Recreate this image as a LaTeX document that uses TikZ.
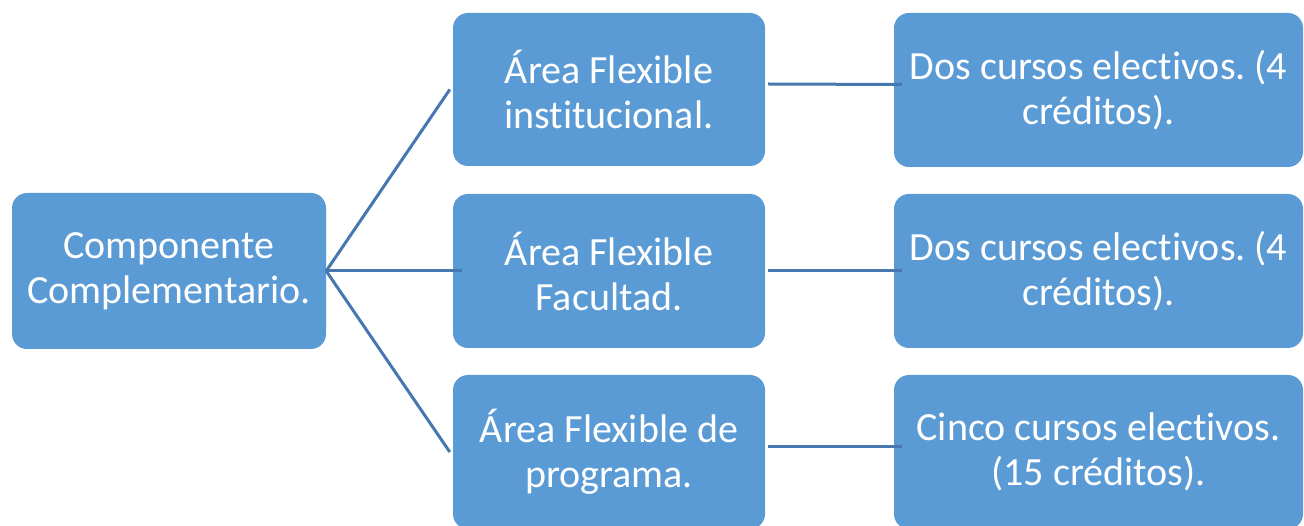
\documentclass[tikz,border=0pt]{standalone}
\usepackage{fontspec}
\setmainfont{Carlito}[RawFeature={-liga;-calt;-dlig;-clig}]
\frenchspacing
\definecolor{boxblue}{HTML}{5B9BD5}
\definecolor{lineblue}{HTML}{4677AE}
\begin{document}
\begin{tikzpicture}[x=1pt,y=1pt,
  box/.style={fill=boxblue, draw=none, rounded corners=15pt, text=white,
    align=center, inner sep=0pt, font=\fontsize{40}{45}\selectfont},
  conn/.style={draw=lineblue, line width=3pt}]
\useasboundingbox (0,0) rectangle (1304,525);
\begin{scope}
\clip (0,0) rectangle (1304,525);
\node[box, minimum width=314pt, minimum height=156pt] (L) at (169,254) {Componente\\Complementario.};
\node[box, minimum width=312pt, minimum height=153pt] (M1) at (609,435.5) {Área Flexible\\institucional.};
\node[box, minimum width=312pt, minimum height=154pt] (M2) at (609,254) {Área Flexible\\Facultad.};
\node[box, minimum width=312pt, minimum height=154pt] (M3) at (609,73) {Área Flexible de\\programa.};
\node[box, minimum width=409pt, minimum height=154pt] (R1) at (1098.5,435) {Dos cursos electivos. (4\\créditos).};
\node[box, minimum width=409pt, minimum height=154pt] (R2) at (1098.5,254) {Dos cursos electivos. (4\\créditos).};
\node[box, minimum width=409pt, minimum height=154pt] (R3) at (1098.5,73) {Cinco cursos electivos.\\(15 créditos).};
\draw[conn] (L.east) -- ([xshift=-3pt]M1.west);
\draw[conn] (L.east) -- ([xshift=9pt]M2.west);
\draw[conn] (L.east) -- ([xshift=-3pt]M3.west);
\draw[conn] ([shift={(3pt,5.5pt)}]M1.east) -- ([shift={(8pt,5.5pt)}]R1.west);
\draw[conn] ([shift={(3pt,0pt)}]M2.east) -- ([shift={(8pt,0pt)}]R2.west);
\draw[conn] ([shift={(3pt,5pt)}]M3.east) -- ([shift={(8pt,5pt)}]R3.west);
\end{scope}
\end{tikzpicture}
\end{document}
